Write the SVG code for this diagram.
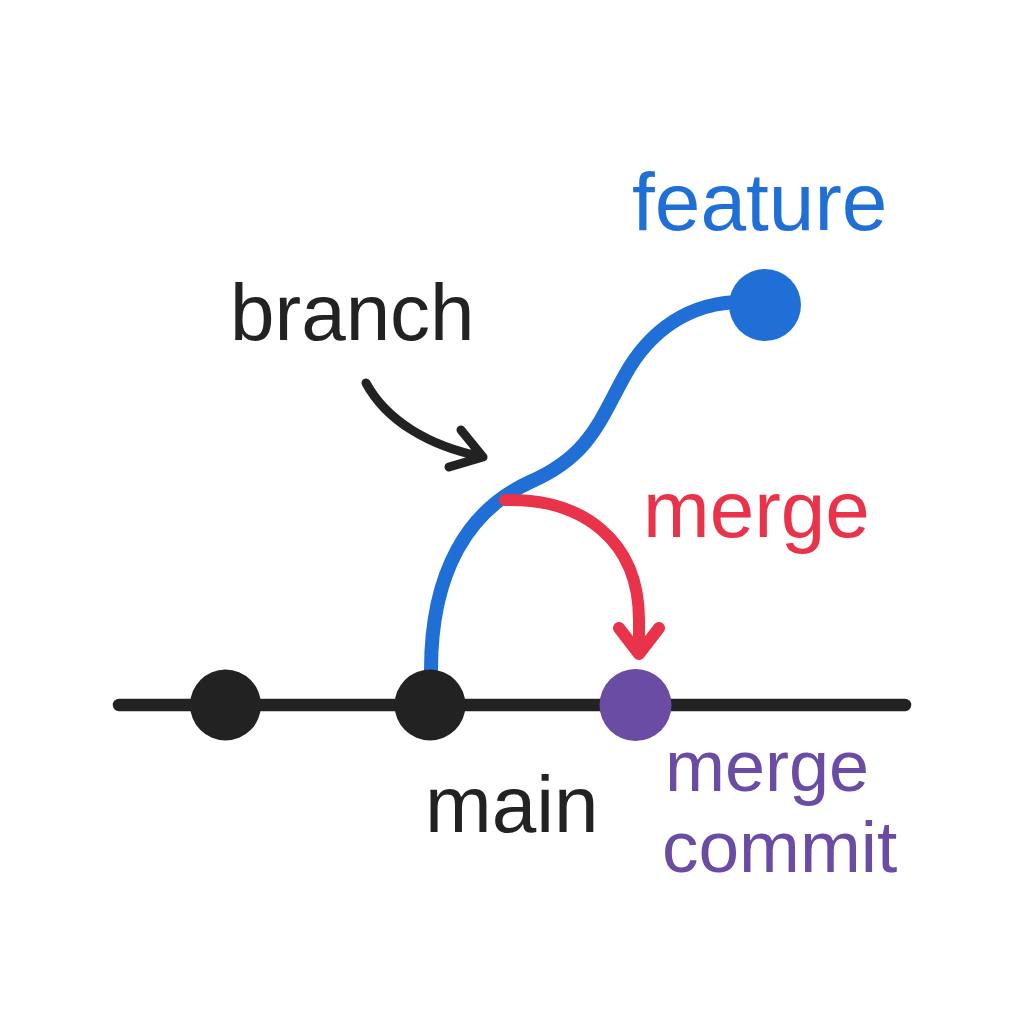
<svg xmlns="http://www.w3.org/2000/svg" width="1024" height="1024" viewBox="0 0 1024 1024">
  <style>
    text { font-family: "Liberation Sans", Arial, sans-serif; }
    .dark { fill: #222222; }
    .blue { fill: #1f6fd6; }
    .red { fill: #e8334a; }
    .purple { fill: #6a4ca5; }
    .line { fill: none; stroke-linecap: round; stroke-linejoin: round; }
  </style>
  <rect x="0" y="0" width="1024" height="1024" fill="#ffffff"/>

  <g id="connectors">
    <line id="main-line" class="line" x1="119" y1="705" x2="905" y2="705" stroke="#222222" stroke-width="12.5"/>
    <path id="feature-branch" class="line" d="M431,670 C431,572 468,510 530,482 C590,456 600,420 625,375 C650,330 690,302 742,302" stroke="#1f6fd6" stroke-width="14"/>
    <path id="merge-arrow" class="line" d="M505,500 C582,498 639,540 639,620 L639,654 M619,628 L639,654 L659,628" stroke="#e8334a" stroke-width="12"/>
    <path id="branch-arrow" class="line" d="M366,383 C386,420 428,446 483,457 M461,430 L483,457 L449,467" stroke="#222222" stroke-width="9"/>
  </g>

  <g id="commit-1"><circle cx="225.5" cy="705" r="35.5" class="dark"/></g>
  <g id="commit-2"><circle cx="430" cy="705" r="35.5" class="dark"/></g>
  <g id="merge-commit"><circle cx="635.5" cy="705" r="36" class="purple"/></g>
  <g id="feature-commit"><circle cx="765" cy="305" r="36" class="blue"/></g>

  <g id="labels">
    <text x="230" y="340" font-size="80" class="dark">branch</text>
    <text x="632" y="230" font-size="82" class="blue">feature</text>
    <text x="643" y="537" font-size="80" class="red">merge</text>
    <text x="425" y="832" font-size="80" class="dark">main</text>
    <text x="665" y="791" font-size="72" class="purple">merge</text>
    <text x="662" y="872" font-size="73" class="purple">commit</text>
  </g>
</svg>
